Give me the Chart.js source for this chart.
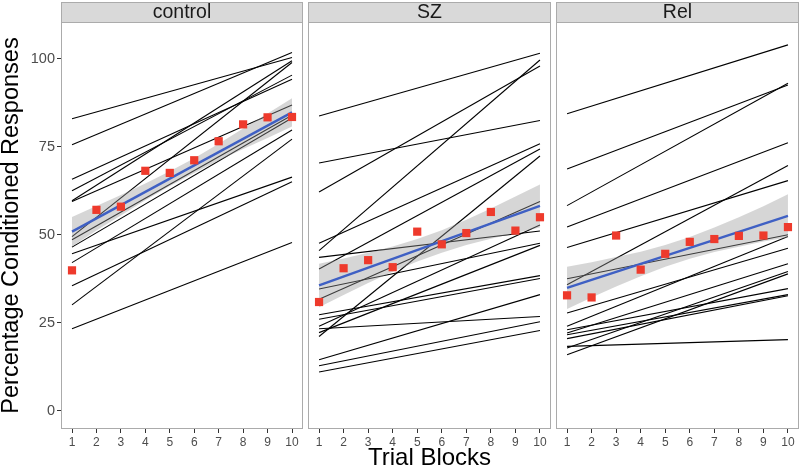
<!DOCTYPE html>
<html>
<head>
<meta charset="utf-8">
<script src="https://cdn.jsdelivr.net/npm/chart.js@4/dist/chart.umd.min.js"></script>
<style>
  html, body { margin: 0; padding: 0; background: #ffffff; }
  #wrap { position: relative; width: 800px; height: 470px; overflow: hidden; background: #fff; }
  canvas { position: absolute; top: 0; }
</style>
</head>
<body>
<div id="wrap">
  <canvas id="c0" width="305" height="470" style="left:0px"></canvas>
  <canvas id="c1" width="248" height="470" style="left:305px"></canvas>
  <canvas id="c2" width="247" height="470" style="left:553px"></canvas>
</div>
<script>
// ---------- data ----------
const panelNames = ['control', 'SZ', 'Rel'];
const trials = [1, 2, 3, 4, 5, 6, 7, 8, 9, 10];
const yTicks = [0, 25, 50, 75, 100];

// individual subject regression lines: value at trial 1 and at trial 10
const ctrlStart = [83.0, 75.6, 65.8, 62.5, 59.7, 59.5, 49.5, 48.6, 46.5, 44.6, 42.1, 35.5, 30.1, 23.3];
const ctrlEnd   = [100.4, 101.8, 94.2, 95.4, 99.5, 86.9, 99.0, 84.0, 83.2, 66.4, 79.8, 65.1, 77.2, 47.8];
const szStart   = [83.8, 70.4, 62.2, 47.6, 45.5, 43.6, 40.3, 34.6, 31.7, 27.3, 26.0, 24.0, 23.3, 22.2, 21.1, 14.5, 12.8, 11.0];
const szEnd     = [101.6, 82.5, 98.0, 75.9, 99.7, 51.1, 74.4, 47.6, 59.5, 38.4, 37.6, 52.8, 26.8, 47.0, 72.4, 33.0, 25.3, 22.8];
const relStart  = [84.4, 68.7, 58.3, 52.2, 46.4, 37.5, 35.8, 27.8, 24.0, 23.0, 22.1, 21.6, 20.5, 18.3, 17.8, 15.9];
const relEnd    = [104.0, 92.6, 93.1, 76.2, 65.4, 50.0, 69.7, 46.2, 49.5, 34.7, 41.8, 33.0, 32.7, 20.2, 39.6, 38.9];

// group means per trial block (red squares)
const ctrlMean = [39.9, 57.1, 58.0, 68.2, 67.6, 71.2, 76.6, 81.4, 83.4, 83.5];
const szMean   = [30.9, 40.5, 42.8, 40.8, 50.9, 47.3, 50.5, 56.5, 51.2, 55.0];
const relMean  = [32.8, 32.2, 49.8, 40.1, 44.6, 48.0, 48.8, 49.7, 49.8, 52.2];

// group fit line (blue): value at trial 1 and trial 10
const ctrlFit = [50.9, 84.8];
const szFit   = [35.6, 58.2];
const relFit  = [34.9, 55.4];

// confidence band (grey) per trial block
const ctrlUpper = [55.1, 58.2, 61.3, 64.6, 68.1, 71.8, 75.9, 80.2, 84.5, 88.8];
const ctrlLower = [46.7, 51.2, 55.5, 59.8, 63.9, 67.6, 71.1, 74.4, 77.5, 80.8];
const szUpper   = [41.8, 43.3, 44.9, 46.7, 48.8, 51.3, 54.3, 57.5, 60.9, 64.3];
const szLower   = [29.4, 32.9, 36.3, 39.5, 42.4, 44.9, 47.1, 48.9, 50.5, 52.1];
const relUpper  = [40.9, 42.2, 43.7, 45.2, 47.1, 49.4, 52.1, 55.0, 58.1, 61.5];
const relLower  = [28.9, 32.2, 35.3, 38.2, 40.9, 43.2, 45.1, 46.6, 48.1, 49.3];

// ---------- chart building ----------
const FONT = '"Liberation Sans", Arial, Helvetica, sans-serif';

const panelDeco = {
  id: 'panelDeco',
  afterDatasetsDraw(chart, args, opts) {
    const ctx = chart.ctx, a = chart.chartArea;
    ctx.save();
    ctx.strokeStyle = '#ababab';
    ctx.lineWidth = 1;
    ctx.strokeRect(a.left + 0.5, a.top + 0.5, a.right - a.left - 1, a.bottom - a.top - 1);
    // strip
    ctx.fillStyle = '#d9d9d9';
    ctx.fillRect(a.left, 2, a.right - a.left, a.top - 2);
    ctx.strokeRect(a.left + 0.5, 2.5, a.right - a.left - 1, a.top - 2);
    ctx.fillStyle = '#1a1a1a';
    ctx.font = '19.5px ' + FONT;
    ctx.textAlign = 'center';
    ctx.textBaseline = 'middle';
    ctx.fillText(opts.label, (a.left + a.right) / 2, (2 + a.top) / 2 + 1);
    ctx.restore();
  }
};

function makePanel(canvasId, idx, starts, ends, means, fit, upper, lower, pad) {
  const datasets = [];
  datasets.push({
    type: 'scatter', data: trials.map((t, i) => ({x: t, y: means[i]})),
    pointStyle: 'rect', pointRadius: 5.8, backgroundColor: '#ee3a2c', borderWidth: 0, order: 0
  });
  datasets.push({
    type: 'line', data: [{x: trials[0], y: fit[0]}, {x: trials[trials.length - 1], y: fit[1]}],
    borderColor: '#3f60c4', borderWidth: 2.4, pointRadius: 0, fill: false, order: 1
  });
  datasets.push({
    type: 'line', data: trials.map((t, i) => ({x: t, y: upper[i]})),
    borderWidth: 0, pointRadius: 0, backgroundColor: 'rgba(153,153,153,0.4)', fill: '+1', order: 2
  });
  datasets.push({
    type: 'line', data: trials.map((t, i) => ({x: t, y: lower[i]})),
    borderWidth: 0, pointRadius: 0, fill: false, order: 2
  });
  starts.forEach((s, i) => {
    datasets.push({
      type: 'line', data: [{x: trials[0], y: s}, {x: trials[trials.length - 1], y: ends[i]}],
      borderColor: '#000000', borderWidth: 1.1, pointRadius: 0, fill: false, order: 3
    });
  });

  const isFirst = idx === 0;
  const isMid = idx === 1;

  return new Chart(document.getElementById(canvasId), {
    data: { datasets },
    options: {
      responsive: false, animation: false, devicePixelRatio: 1, events: [],
      layout: { autoPadding: false, padding: pad },
      plugins: { legend: { display: false }, tooltip: { enabled: false }, panelDeco: { label: panelNames[idx] } },
      scales: {
        x: {
          type: 'linear', min: 0.55, max: 10.45,
          afterBuildTicks: s => { s.ticks = trials.map(v => ({value: v})); },
          afterFit: s => { s.height = 41; },
          grid: { drawOnChartArea: false, drawTicks: true, tickLength: 4, color: '#333333', lineWidth: 1 },
          border: { display: false },
          ticks: { autoSkip: false, maxRotation: 0, padding: 2, color: '#4d4d4d', font: { family: FONT, size: 12 } },
          title: { display: isMid, text: 'Trial Blocks', color: '#000000', padding: 0,
                   font: { family: FONT, size: 24, lineHeight: 1 } }
        },
        y: {
          type: 'linear', min: -5.2, max: 110.5, display: isFirst,
          afterBuildTicks: s => { s.ticks = yTicks.map(v => ({value: v})); },
          afterFit: s => { s.width = isFirst ? 61 : 0; },
          grid: { drawOnChartArea: false, drawTicks: true, tickLength: 4, color: '#333333', lineWidth: 1 },
          border: { display: false },
          ticks: { padding: 2, color: '#4d4d4d', font: { family: FONT, size: 14.5 } },
          title: { display: isFirst, text: 'Percentage Conditioned Responses', color: '#000000', padding: 0,
                   font: { family: FONT, size: 23.5, lineHeight: 1 } }
        }
      }
    },
    plugins: [panelDeco]
  });
}

makePanel('c0', 0, ctrlStart, ctrlEnd, ctrlMean, ctrlFit, ctrlUpper, ctrlLower, {top: 22, right: 2, bottom: 0, left: 0});
makePanel('c1', 1, szStart, szEnd, szMean, szFit, szUpper, szLower, {top: 22, right: 2, bottom: 0, left: 3});
makePanel('c2', 2, relStart, relEnd, relMean, relFit, relUpper, relLower, {top: 22, right: 1, bottom: 0, left: 3});
</script>
</body>
</html>
